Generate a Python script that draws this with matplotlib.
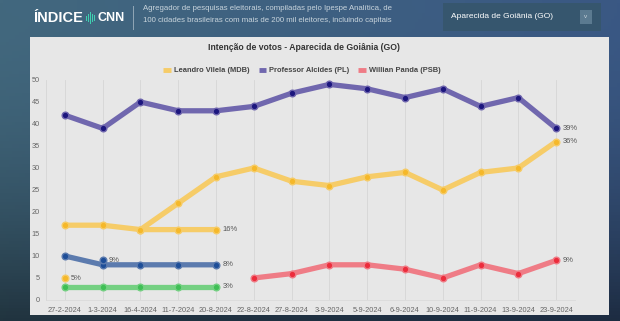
import numpy as np
import matplotlib.pyplot as plt
from matplotlib.patches import Rectangle

plt.rcParams['font.family'] = ['Liberation Sans', 'DejaVu Sans']

# ------------------------------------------------------------
# Data
# ------------------------------------------------------------
dates = ["27-2-2024", "1-3-2024", "16-4-2024", "11-7-2024", "20-8-2024",
         "22-8-2024", "27-8-2024", "3-9-2024", "5-9-2024", "6-9-2024",
         "10-9-2024", "11-9-2024", "13-9-2024", "23-9-2024"]

alcides = [42, 39, 45, 43, 43, 44, 47, 49, 48, 46, 48, 44, 46, 39]
vilela = [np.nan, np.nan, 16, 22, 28, 30, 27, 26, 28, 29, 25, 29, 30, 36]
panda = [np.nan] * 5 + [5, 6, 8, 8, 7, 5, 8, 6, 9]

# earlier scenario series (first five dates only)
vilela_alt = [17, 17, 16, 16, 16]
blue_alt = [10, 8, 8, 8, 8]
green_alt = [3, 3, 3, 3, 3]
vilela_single = (0, 5)
blue_single = (1, 9)

W, H = 620, 321


def px(x, y):
    return x / W, 1 - y / H


fig = plt.figure(figsize=(6.2, 3.21), dpi=100)

# Background gradient
bg = fig.add_axes([0, 0, 1, 1], zorder=-10)
bg.axis("off")
xs = np.linspace(0, 1, 200)
ys = np.linspace(0, 1, 100)
left_c = np.array([0x42, 0x68, 0x7e]) / 255
right_c = np.array([0x3a, 0x58, 0x84]) / 255
grad = left_c[None, None, :] * (1 - xs[None, :, None]) + right_c[None, None, :] * xs[None, :, None]
shade = (1 - 0.5 * ys ** 2)[:, None, None]
img = np.clip(grad * shade, 0, 1)
bg.imshow(img, aspect="auto", extent=[0, 1, 0, 1], origin="upper")
bg.set_xlim(0, 1)
bg.set_ylim(0, 1)

# Chart panel
x0, y0 = px(30, 315)
x1, y1 = px(609, 37)
fig.patches.append(Rectangle((x0, y0), x1 - x0, y1 - y0, transform=fig.transFigure,
                             facecolor="#e7e7e7", edgecolor="none", zorder=-5))

# Header
fig.text(*px(33, 18), "ÍNDICE", color="white", fontsize=10.5, fontweight="bold",
         va="center", ha="left")
for i, hgt in enumerate([5, 8, 11, 8, 6]):
    bx, by = px(86 + i * 2, 18 + hgt / 2)
    fig.patches.append(Rectangle((bx, by), 1 / W, hgt / H, transform=fig.transFigure,
                                 facecolor="#3fd0b0", edgecolor="none"))
fig.text(*px(97, 18), "CNN", color="white", fontsize=9, fontweight="bold",
         va="center", ha="left")
dx, dy = px(133, 30)
fig.patches.append(Rectangle((dx, dy), 0.8 / W, 24 / H, transform=fig.transFigure,
                             facecolor="#8ea4b4", edgecolor="none"))
fig.text(*px(143, 9), "Agregador de pesquisas eleitorais, compiladas pelo Ipespe Analítica, de",
         color="#c9d5dd", fontsize=5.6, va="center", ha="left")
fig.text(*px(143, 21), "100 cidades brasileiras com mais de 200 mil eleitores, incluindo capitais",
         color="#c9d5dd", fontsize=5.6, va="center", ha="left")
bx, by = px(443, 31)
fig.patches.append(Rectangle((bx, by), 158 / W, 28 / H, transform=fig.transFigure,
                             facecolor="#36566e", edgecolor="none"))
fig.text(*px(451, 16), "Aparecida de Goiânia (GO)", color="white", fontsize=6,
         va="center", ha="left")
bx, by = px(580, 24)
fig.patches.append(Rectangle((bx, by), 12 / W, 14 / H, transform=fig.transFigure,
                             facecolor="#5b7a90", edgecolor="none"))
fig.text(*px(586, 16), "v", color="#c9d5dd", fontsize=4.5, va="center", ha="center")

# Title
fig.text(*px(304, 48), "Intenção de votos - Aparecida de Goiânia (GO)",
         color="#333333", fontsize=6.2, fontweight="bold", va="center", ha="center")

# Main axes
ax = fig.add_axes([46 / W, 21 / H, 529 / W, 220 / H])
ax.set_facecolor("#e7e7e7")
x = np.arange(len(dates))

styles = {
    "vilela": dict(line="#f6cc68", mark="#f5b82a"),
    "alcides": dict(line="#7067ae", mark="#1c167e"),
    "panda": dict(line="#ef7c86", mark="#ec2c3c"),
    "blue": dict(line="#5c7bae", mark="#1e4e98"),
    "green": dict(line="#74d082", mark="#3fbf55"),
}


def draw(xv, yv, key, label=None):
    s = styles[key]
    ax.plot(xv, yv, "-", color=s["line"], lw=3.8, solid_capstyle="round", label=label, zorder=3)
    ax.plot(xv, yv, "o", color=s["mark"], ms=4.8, mec=s["line"], mew=1.0, zorder=4)


draw(x[:5], vilela_alt, "vilela")
draw(x[:5], blue_alt, "blue")
draw(x[:5], green_alt, "green")
draw(x, vilela, "vilela", "Leandro Vilela (MDB)")
draw(x, alcides, "alcides", "Professor Alcides (PL)")
draw(x, panda, "panda", "Willian Panda (PSB)")
draw([vilela_single[0]], [vilela_single[1]], "vilela")
draw([blue_single[0]], [blue_single[1]], "blue")

# End labels
labels = [
    (x[-1], alcides[-1]), (x[-1], vilela[-1]), (x[-1], panda[-1]),
    (x[4], vilela_alt[-1]), (x[4], blue_alt[-1]), (x[4], green_alt[-1]),
    vilela_single, blue_single,
]
for lx, ly in labels:
    ax.annotate(f"{ly}%", (lx, ly), xytext=(4.5, 0), textcoords="offset points",
                va="center", ha="left", fontsize=5.4, color="#555555", zorder=5)

ax.set_xlim(-0.5, 13.5)
ax.set_ylim(0, 50)
ax.set_yticks(range(0, 51, 5))
ax.set_xticks(x)
ax.set_xticklabels(dates)
ax.tick_params(axis="both", length=0, labelsize=5.3, labelcolor="#666666")
ax.tick_params(axis="x", pad=5)
ax.tick_params(axis="y", pad=4.5)
ax.grid(axis="x", color="#d6d6d6", lw=0.6)
ax.grid(axis="y", visible=False)
for side in ["top", "right"]:
    ax.spines[side].set_visible(False)
ax.spines["left"].set_color("#d6d6d6")
ax.spines["left"].set_linewidth(0.6)
ax.spines["bottom"].set_color("#dadada")
ax.spines["bottom"].set_linewidth(0.6)

handles, names = ax.get_legend_handles_labels()
leg = fig.legend(handles, names, loc="center", bbox_to_anchor=px(302, 71), ncol=3,
                 frameon=False, fontsize=5.4, handlelength=1.0, handleheight=0.5,
                 columnspacing=1.2, handletextpad=0.4, borderaxespad=0)
for t in leg.get_texts():
    t.set_color("#444444")
    t.set_fontweight("bold")
for lh in leg.get_lines():
    lh.set_linewidth(3.5)
    lh.set_solid_capstyle("butt")

fig.savefig("out.png", dpi=100)
